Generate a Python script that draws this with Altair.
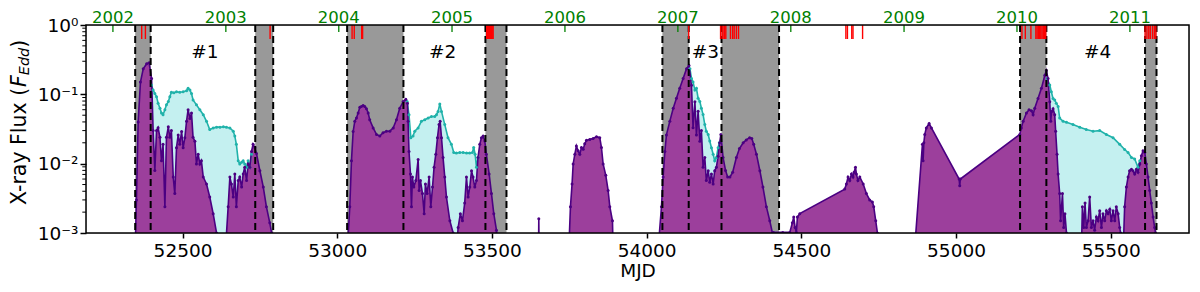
import altair as alt
import pandas as pd

W, H = 1103, 208

# ---------------- data (MJD, flux in F_Edd) ----------------
purple_1 = [(52347, 0.0006), (52351, 0.003), (52356.6, 0.04), (52364, 0.15), (52373, 0.234), (52384, 0.276),
            (52392, 0.285), (52400, 0.169), (52405, 0.03), (52410.5, 0.008), (52416, 0.03), (52421, 0.033),
            (52427, 0.024), (52432, 0.011), (52437, 0.019), (52443, 0.0024), (52448, 0.024), (52454, 0.034),
            (52459, 0.024), (52464, 0.03), (52470, 0.0064), (52475, 0.0037), (52480.5, 0.017), (52486, 0.026),
            (52491, 0.019), (52497, 0.029), (52502, 0.017), (52507.5, 0.0237), (52513, 0.041), (52518, 0.06),
            (52524, 0.045), (52529, 0.054), (52534, 0.024), (52540, 0.021), (52545, 0.0099), (52550.5, 0.0137),
            (52556, 0.0099), (52561, 0.011), (52567, 0.0064), (52577.5, 0.0051), (52588, 0.0033), (52599, 0.0019),
            (52610, 0.001), (52613, 0.0005), (52638, 0.0005), (52647.5, 0.0024), (52653, 0.0064), (52658, 0.0051),
            (52664, 0.0033), (52669, 0.0071), (52674, 0.0024), (52680, 0.0057), (52685, 0.0064), (52691, 0.0046),
            (52696, 0.0071), (52701, 0.0089), (52707, 0.0057), (52712, 0.0099), (52717.5, 0.0089), (52723, 0.015),
            (52728, 0.019), (52734, 0.017), (52739, 0.014), (52750, 0.0079), (52761, 0.0046), (52771, 0.0024),
            (52782, 0.0014), (52788, 0.001), (52791, 0.0005)]

purple_2 = [(53033, 0.0006), (53040.6, 0.0024), (53046, 0.011), (53051.4, 0.029), (53056.8, 0.041), (53062, 0.0455),
            (53067.6, 0.054), (53073, 0.065), (53078, 0.067), (53083.7, 0.069), (53089, 0.067), (53094.5, 0.062),
            (53100, 0.054), (53105, 0.043), (53116, 0.0328), (53127, 0.0264), (53137.6, 0.025), (53148, 0.028),
            (53159, 0.0294), (53170, 0.0294), (53181, 0.0328), (53191.4, 0.043), (53202, 0.063), (53213, 0.0785),
            (53221.6, 0.085), (53227, 0.0744), (53229, 0.041), (53232, 0.015), (53236.7, 0.0071), (53240, 0.0024),
            (53243, 0.0064), (53247.5, 0.0046), (53254, 0.0057), (53261.5, 0.0115), (53264.7, 0.0041), (53269, 0.0057),
            (53275.5, 0.0037), (53281, 0.0019), (53285, 0.0051), (53290.5, 0.0037), (53297, 0.0064), (53302.4, 0.0024),
            (53308, 0.0046), (53313, 0.0089), (53318.6, 0.0137), (53324, 0.0237), (53329, 0.0366), (53332.6, 0.0408),
            (53337, 0.0237), (53342, 0.0123), (53347.6, 0.0064), (53353, 0.0033), (53364, 0.0015), (53374.6, 0.001),
            (53378, 0.0005), (53385, 0.0005), (53390.7, 0.0012), (53398, 0.0019), (53404.7, 0.0015), (53412, 0.0027),
            (53417.7, 0.0064), (53423, 0.0033), (53428.4, 0.0046), (53434, 0.0079), (53439, 0.0064), (53444.6, 0.0046),
            (53450, 0.0057), (53455, 0.0123), (53460.7, 0.019), (53466, 0.0237), (53471.5, 0.025), (53477, 0.0212),
            (53482, 0.0137), (53491, 0.0071), (53498.5, 0.0037), (53506, 0.0019), (53514.6, 0.0011), (53520, 0.0005)]

purple_spike = [(53650.5, 0.0005), (53651.5, 0.0016), (53652.5, 0.0005)]

purple_2006 = [(53748, 0.0005), (53753.8, 0.0024), (53759, 0.0051), (53762.5, 0.0099), (53768, 0.0137), (53773, 0.018),
               (53778.6, 0.0153), (53784, 0.0137), (53789.4, 0.0171), (53795, 0.0162), (53800, 0.0194),
               (53805.5, 0.0217), (53816.3, 0.0224), (53827, 0.0231), (53838, 0.0245), (53848.6, 0.0237),
               (53854, 0.0171), (53859.4, 0.0099), (53868, 0.0068), (53875.6, 0.0041), (53881, 0.0024),
               (53889.6, 0.0015), (53892, 0.0005)]

purple_3 = [(54036, 0.0005), (54048, 0.0024), (54053.3, 0.0064), (54059, 0.015), (54064, 0.026), (54075, 0.041),
            (54086, 0.063), (54096.4, 0.088), (54107, 0.122), (54118, 0.169), (54129, 0.234), (54137, 0.26),
            (54145, 0.135), (54150, 0.033), (54156, 0.078), (54161, 0.026), (54166.4, 0.057), (54172, 0.021),
            (54177, 0.03), (54182.5, 0.0089), (54188, 0.0123), (54193, 0.0057), (54199, 0.0079), (54204, 0.0054),
            (54209.5, 0.0071), (54215, 0.0051), (54220, 0.0079), (54225.6, 0.0089), (54231, 0.0128), (54236, 0.02),
            (54240, 0.0264), (54247, 0.0123), (54255, 0.008), (54262, 0.0064), (54269, 0.0064), (54278, 0.0075),
            (54290, 0.0123), (54300, 0.0165), (54312, 0.02), (54322, 0.022), (54333, 0.0237), (54340, 0.023),
            (54346, 0.019), (54355, 0.0137), (54366, 0.0079), (54376, 0.0046), (54387, 0.0024), (54398, 0.0015),
            (54406.5, 0.001), (54410, 0.00102), (54440, 0.00102), (54462.6, 0.00102), (54471, 0.0014),
            (54475.5, 0.0017), (54480, 0.0012), (54484, 0.00102), (54487.3, 0.0017), (54495, 0.0019),
            (54640.3, 0.0043), (54645.7, 0.0051), (54651, 0.0064), (54656.5, 0.0057), (54662, 0.0071),
            (54667, 0.0064), (54670.5, 0.0075), (54675, 0.0089), (54678, 0.0071), (54683, 0.0057), (54689, 0.0064),
            (54700, 0.0051), (54710.3, 0.0037), (54721, 0.003), (54729.7, 0.0028), (54734, 0.0024),
            (54740.5, 0.0015), (54746, 0.001), (54748, 0.0005)]

purple_4 = [(54865, 0.0005), (54891.4, 0.019), (54893.5, 0.011), (54896, 0.02), (54899, 0.0264), (54904, 0.0328),
            (54913, 0.038), (54920.5, 0.0328), (55010, 0.006), (55012, 0.0048), (55014, 0.006), (55206, 0.0264),
            (55211, 0.0328), (55217, 0.041), (55227.5, 0.0537), (55236, 0.06), (55244, 0.058), (55249, 0.0508),
            (55254.4, 0.063), (55265, 0.087), (55276, 0.122), (55287, 0.188), (55292, 0.22), (55297.4, 0.169),
            (55303, 0.078), (55306, 0.041), (55309, 0.0567), (55313.6, 0.062), (55319, 0.0508), (55322, 0.0294),
            (55326.5, 0.0137), (55330, 0.0071), (55335, 0.0037), (55338, 0.0015), (55344, 0.0037), (55348, 0.0012),
            (55352, 0.0019), (55357, 0.001), (55362, 0.0005), (55405, 0.0005), (55408.4, 0.0024), (55412.7, 0.0012),
            (55417, 0.0027), (55421.3, 0.0012), (55426.7, 0.0015), (55432, 0.0033), (55437.5, 0.0012),
            (55443, 0.0015), (55448, 0.0011), (55453.6, 0.0017), (55459, 0.0015), (55464.4, 0.0021),
            (55470, 0.0012), (55475, 0.0019), (55480.5, 0.0015), (55486, 0.0021), (55491.3, 0.0019),
            (55497, 0.0022), (55502, 0.0015), (55507.5, 0.0021), (55513, 0.0015), (55518, 0.0024), (55524, 0.0019),
            (55529, 0.0012), (55532, 0.001), (55535, 0.0005), (55540, 0.0005), (55545, 0.0024), (55550.6, 0.0046),
            (55556, 0.0064), (55561, 0.0079), (55567, 0.0083), (55572, 0.0079), (55577.5, 0.0071), (55583, 0.0083),
            (55588, 0.0075), (55594, 0.0099), (55599, 0.013), (55604.4, 0.0153), (55610, 0.0145),
            (55615.2, 0.0099), (55620.6, 0.0064), (55626, 0.0041), (55631.4, 0.0027), (55637, 0.0017),
            (55642, 0.0012), (55645, 0.001), (55647, 0.0005)]

teal_1 = [(52399.7, 0.136), (52405, 0.115), (52410.5, 0.103), (52416, 0.0925), (52421, 0.0744), (52427, 0.063),
          (52432, 0.0537), (52437, 0.0508), (52443, 0.0598), (52448, 0.0705), (52454, 0.0785), (52459, 0.0925),
          (52464, 0.107), (52472, 0.105), (52480.5, 0.109), (52491, 0.107), (52502, 0.109), (52513, 0.113),
          (52518, 0.122), (52524, 0.115), (52529, 0.103), (52534, 0.083), (52545, 0.0705), (52556, 0.0598),
          (52567, 0.0508), (52577.5, 0.0408), (52588, 0.031), (52599, 0.0328), (52610, 0.0336), (52621, 0.0336),
          (52632, 0.034), (52642, 0.0336), (52653, 0.0328), (52664, 0.0294), (52669, 0.025), (52674, 0.019),
          (52680, 0.011), (52685, 0.0099), (52691, 0.01045), (52696, 0.011), (52701, 0.0099), (52707, 0.0089),
          (52712, 0.011), (52717.5, 0.0089), (52723, 0.0137)]

teal_2 = [(53226, 0.0785), (53232, 0.0508), (53237.8, 0.0237), (53245, 0.025), (53250.7, 0.0294), (53261.5, 0.0328),
          (53272, 0.0408), (53283, 0.043), (53294, 0.0455), (53304.5, 0.048), (53315, 0.048), (53320.7, 0.0508),
          (53326, 0.0567), (53331.5, 0.0725), (53337, 0.0567), (53347.6, 0.0366), (53358, 0.0237), (53369, 0.019),
          (53376.7, 0.0145), (53385, 0.0142), (53396, 0.0145), (53407, 0.0145), (53418, 0.0142), (53428, 0.0142),
          (53437, 0.0145), (53441, 0.0171), (53445.6, 0.0137), (53450, 0.0089), (53455, 0.0123)]

teal_3 = [(54140, 0.234), (54145, 0.169), (54150, 0.151), (54156, 0.115), (54161, 0.122), (54166.4, 0.088),
          (54172, 0.0785), (54177, 0.063), (54182.5, 0.051), (54188, 0.0366), (54193, 0.0294), (54199, 0.0263),
          (54204, 0.0212), (54209.5, 0.017), (54215, 0.0137), (54220, 0.011), (54225.6, 0.0123), (54231, 0.017),
          (54235, 0.02)]

teal_4 = [(55294, 0.169), (55303, 0.136), (55308, 0.109), (55313.6, 0.087), (55319, 0.083), (55324, 0.0744),
          (55330, 0.067), (55335, 0.0455), (55346, 0.0408), (55357, 0.0395), (55378, 0.0366), (55400, 0.0336),
          (55421, 0.031), (55443, 0.0294), (55464.4, 0.03), (55486, 0.0264), (55507.5, 0.0237), (55529, 0.019),
          (55545, 0.016), (55556, 0.0145), (55567, 0.0123), (55577.5, 0.0117), (55588, 0.0089), (55594, 0.011)]

# shaded (grey) intervals, MJD start / end
grey_start = [52347, 52735, 53032, 53479, 54051, 54242, 55207, 55611]
grey_end = [52397, 52793, 53214, 53547, 54136, 54428, 55292, 55648]

# red observation ticks at top
red_ticks = [52368, 52380, 52783, 53048, 53055, 53079, 53082, 53483, 53486, 53489, 53492, 53495, 53498, 53501,
             53504, 54136, 54239, 54244, 54247, 54252, 54256, 54271, 54278, 54283, 54290, 54297, 54644, 54649,
             54663, 54667, 54698, 55213, 55224, 55242, 55258, 55262, 55266, 55270, 55274, 55278, 55282, 55286,
             55290, 55611, 55617, 55623, 55628, 55635, 55641, 55646]

# top (calendar year) axis
year_labels = ["2002", "2003", "2004", "2005", "2006", "2007", "2008", "2009", "2010", "2011"]
year_mjd = [52275, 52640, 53005, 53371, 53736, 54101, 54466, 54832, 55197, 55562]

# outburst labels
ob_labels = ["#1", "#2", "#3", "#4"]
ob_mjd = [52572, 53341, 54190, 55458]

x_ticks = [52500, 53000, 53500, 54000, 54500, 55000, 55500]
y_major = [0.001, 0.01, 0.1, 1.0]
y_minor = [m * d for d in (0.001, 0.01, 0.1) for m in range(2, 10)]

FONT = "DejaVu Sans"


def seg_df(name, pairs):
    return pd.DataFrame({"mjd": [p[0] for p in pairs], "flux": [p[1] for p in pairs], "seg": name})


purple = pd.concat([seg_df("p1", purple_1), seg_df("p2", purple_2), seg_df("ps", purple_spike),
                    seg_df("p06", purple_2006), seg_df("p3", purple_3), seg_df("p4", purple_4)])
teal = pd.concat([seg_df("t1", teal_1), seg_df("t2", teal_2), seg_df("t3", teal_3), seg_df("t4", teal_4)])
grey = pd.DataFrame({"mjd": grey_start, "mjd_end": grey_end})
edges = pd.DataFrame({"mjd": grey_start + grey_end})
reds = pd.DataFrame({"mjd": red_ticks})
years = pd.DataFrame({"mjd": year_mjd, "label": year_labels})
obs = pd.DataFrame({"mjd": ob_mjd, "label": ob_labels})
ymin = pd.DataFrame({"flux": y_minor})
one = pd.DataFrame({"k": [0]})

xscale = alt.Scale(domain=[52188, 55753], nice=False, zero=False)
yscale = alt.Scale(type="log", domain=[0.001, 1.0], nice=False)

x_axis = alt.Axis(values=x_ticks, format="d", title="MJD", domain=False, tickSize=5, tickWidth=1.5,
                  tickColor="black", labelFont=FONT, labelFontSize=18.5, labelColor="black", labelPadding=3,
                  titleFont=FONT, titleFontSize=18.5, titleFontWeight="normal", titleColor="black",
                  titlePadding=2, grid=False, zindex=1)
y_axis = alt.Axis(values=y_major, title=None, domain=False, ticks=True, tickSize=6, tickWidth=1.5,
                  tickColor="black", grid=False, labelFont=FONT,
                  labelFontSize=18.5, labelColor="black", labelPadding=2, zindex=1,
                  labelExpr="datum.value > 0.5 ? '10⁰' : datum.value > 0.05 ? '10⁻¹' : "
                            "datum.value > 0.005 ? '10⁻²' : '10⁻³'")

X = alt.X("mjd:Q", scale=xscale, axis=x_axis)
Xn = alt.X("mjd:Q", scale=xscale)
Y = alt.Y("flux:Q", scale=yscale, axis=y_axis)
Yn = alt.Y("flux:Q", scale=yscale)

grey_layer = alt.Chart(grey).mark_rect(color="#999999").encode(x=X, x2="mjd_end:Q")

teal_area = alt.Chart(teal).mark_area(color="#C4F0F0", clip=True).encode(
    x=Xn, y=Y, y2=alt.datum(0.001), detail="seg:N")
purple_area = alt.Chart(purple).mark_area(color="#9C3F9C", clip=True).encode(
    x=Xn, y=Yn, y2=alt.datum(0.001), detail="seg:N")
teal_line = alt.Chart(teal).mark_line(color="#20B2AA", strokeWidth=1.6, clip=True).encode(
    x=Xn, y=Yn, detail="seg:N")
purple_line = alt.Chart(purple).mark_line(color="#4B0082", strokeWidth=1.6, clip=True).encode(
    x=Xn, y=Yn, detail="seg:N")
teal_pts = alt.Chart(teal).transform_filter("datum.flux >= 0.001").mark_circle(
    color="#20B2AA", size=9, opacity=1, clip=True).encode(x=Xn, y=Yn)
purple_pts = alt.Chart(purple).transform_filter("datum.flux >= 0.001").mark_circle(
    color="#4B0082", size=9, opacity=1, clip=True).encode(x=Xn, y=Yn)

dashed = alt.Chart(edges).mark_rule(color="black", strokeWidth=2, strokeDash=[7, 4]).encode(x=Xn)

red_layer = alt.Chart(reds).mark_rule(color="red", strokeWidth=1.4).encode(
    x=Xn, y=alt.value(0), y2=alt.value(14))
year_ticks = alt.Chart(years).mark_rule(color="green", strokeWidth=1.3).encode(
    x=Xn, y=alt.value(0), y2=alt.value(7))
year_text = alt.Chart(years).mark_text(color="green", font=FONT, fontSize=16.5, baseline="alphabetic",
                                       align="center").encode(x=Xn, y=alt.value(-1.7), text="label:N")
ob_text = alt.Chart(obs).mark_text(color="black", font=FONT, fontSize=18.5, baseline="middle",
                                   align="center").encode(x=Xn, y=alt.value(27), text="label:N")

ymin_ticks = alt.Chart(ymin).mark_rule(color="black", strokeWidth=1.0).encode(
    y=Yn, x=alt.value(-3.7), x2=alt.value(0))

border = alt.Chart(one).mark_rect(fillOpacity=0, stroke="black", strokeWidth=1.5).encode(
    x=alt.value(0), x2=alt.value(W), y=alt.value(0), y2=alt.value(H))


def title_piece(text, y, x, size, italic):
    return alt.Chart(pd.DataFrame({"t": [text]})).mark_text(
        angle=270, align="left", baseline="middle", font=FONT, fontSize=size,
        fontStyle="italic" if italic else "normal", color="black").encode(
        text="t:N", x=alt.value(x), y=alt.value(y))


t1 = title_piece("X-ray Flux (", 180, -66, 20.5, False)
t2 = title_piece("F", 62, -66, 20.5, True)
t3 = title_piece("Edd", 50.2, -61, 14.4, True)
t4 = title_piece(")", 22.8, -66, 20.5, False)

chart = alt.layer(
    grey_layer, teal_area, purple_area, teal_line, purple_line, teal_pts, purple_pts, dashed,
    red_layer, year_ticks, year_text, ob_text, ymin_ticks, border, t1, t2, t3, t4
).properties(
    width=W, height=H,
    padding={"left": 78, "top": 17, "right": 3, "bottom": 50},
    autosize=alt.AutoSizeParams(type="none"),
).configure_view(stroke=None).configure(background="white")

chart.save("out.html", embed_options={"renderer": "svg", "actions": False})
